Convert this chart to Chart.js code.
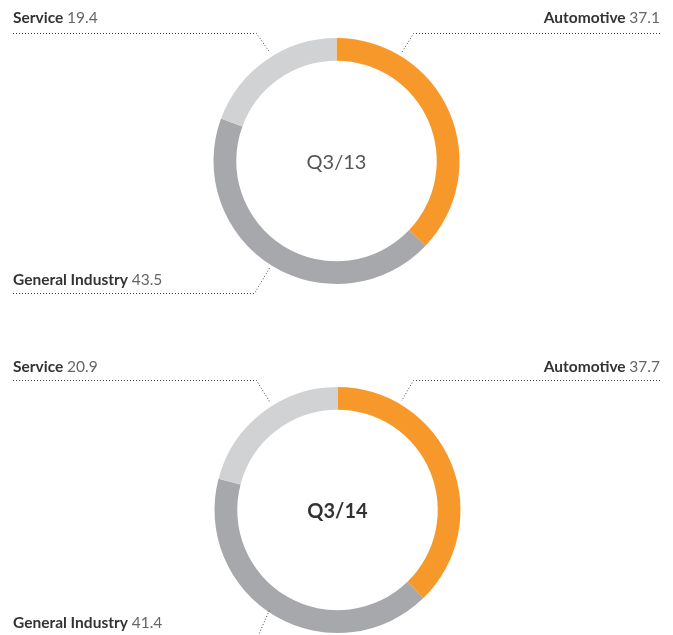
<!DOCTYPE html>
<html>
<head>
<meta charset="utf-8">
<script src="https://cdn.jsdelivr.net/npm/chart.js@4.4.0/dist/chart.umd.min.js"></script>
<style>
body{margin:0;background:#fff;width:673px;height:635px;overflow:hidden;position:relative}
canvas{position:absolute;left:0}
</style>
</head>
<body>
<canvas id="q313" width="673" height="322" style="top:0"></canvas>
<canvas id="q314" width="673" height="322" style="top:349px"></canvas>
<script>
// Umsatz nach Sparten, Anteil in %
const segmente = ["Automotive", "General Industry", "Service"];
const werte2013 = [37.1, 43.5, 19.4];
const werte2014 = [37.7, 41.4, 20.9];
const farben = ["#f7992a", "#a7a8ab", "#d1d2d4"];

const schrift = "Lato, 'Open Sans', sans-serif";

// where the label + dotted leader sit, relative to the ring centre
const lage2013 = [
  {side: "right", textY: -138, lineY: -128, knick: 77, end: [65, -108]},
  {side: "left", textY: 124, lineY: 132, knick: -82, end: [-67, 107]},
  {side: "left", textY: -138, lineY: -128, knick: -80, end: [-67, -109]}
];
const lage2014 = [
  {side: "right", textY: -138, lineY: -130, knick: 76, end: [64, -109]},
  {side: "left", textY: 118, lineY: 127, knick: -80, end: [-68, 100]},
  {side: "left", textY: -138, lineY: -130, knick: -81, end: [-67, -107]}
];

const beschriftung = {
  id: "beschriftung",
  afterDraw(chart, args, opts) {
    const ctx = chart.ctx;
    const arc = chart.getDatasetMeta(0).data[0];
    const cx = arc.x, cy = arc.y;
    const werte = chart.data.datasets[0].data;
    ctx.save();
    chart.data.labels.forEach((name, i) => {
      const l = opts.lage[i];
      const fett = "bold 15.5px " + schrift;
      const normal = "15.5px " + schrift;
      ctx.font = fett;
      const w1 = ctx.measureText(name + " ").width;
      ctx.font = normal;
      const wert = werte[i].toFixed(1);
      const w2 = ctx.measureText(wert).width;
      const x0 = l.side === "left" ? 13 : 660 - w1 - w2;
      const ty = cy + l.textY;
      ctx.textBaseline = "alphabetic";
      ctx.textAlign = "left";
      ctx.font = fett;
      ctx.fillStyle = "#333";
      ctx.fillText(name, x0, ty);
      ctx.font = normal;
      ctx.fillStyle = "#666";
      ctx.fillText(wert, x0 + w1, ty);

      // dotted leader
      const ly = Math.round(cy + l.lineY) + 0.5;
      const kx = cx + l.knick;
      ctx.beginPath();
      ctx.setLineDash([1, 2]);
      ctx.lineWidth = 1;
      ctx.strokeStyle = "#444";
      if (l.side === "left") {
        ctx.moveTo(13, ly);
        ctx.lineTo(kx, ly);
      } else {
        ctx.moveTo(660, ly);
        ctx.lineTo(kx, ly);
      }
      ctx.lineTo(cx + l.end[0], cy + l.end[1]);
      ctx.stroke();
    });
    ctx.setLineDash([]);
    ctx.font = (opts.fett ? "bold " : "") + "20px " + schrift;
    ctx.fillStyle = opts.fett ? "#333" : "#555";
    ctx.textAlign = "center";
    ctx.textBaseline = "middle";
    ctx.fillText(opts.titel, cx, cy + 2);
    ctx.restore();
  }
};

function ring(id, werte, lage, titel, fett, padLeft) {
  return new Chart(document.getElementById(id), {
    type: "doughnut",
    data: {
      labels: segmente,
      datasets: [{
        data: werte,
        backgroundColor: farben,
        borderWidth: 0
      }]
    },
    options: {
      responsive: false,
      animation: false,
      cutout: "81.5%",
      layout: {padding: {top: 38, bottom: 38, left: padLeft}},
      plugins: {
        legend: {display: false},
        tooltip: {enabled: false},
        beschriftung: {lage: lage, titel: titel, fett: fett}
      }
    },
    plugins: [beschriftung]
  });
}

ring("q313", werte2013, lage2013, "Q3/13", false, 0);
ring("q314", werte2014, lage2014, "Q3/14", true, 2);
</script>
</body>
</html>
